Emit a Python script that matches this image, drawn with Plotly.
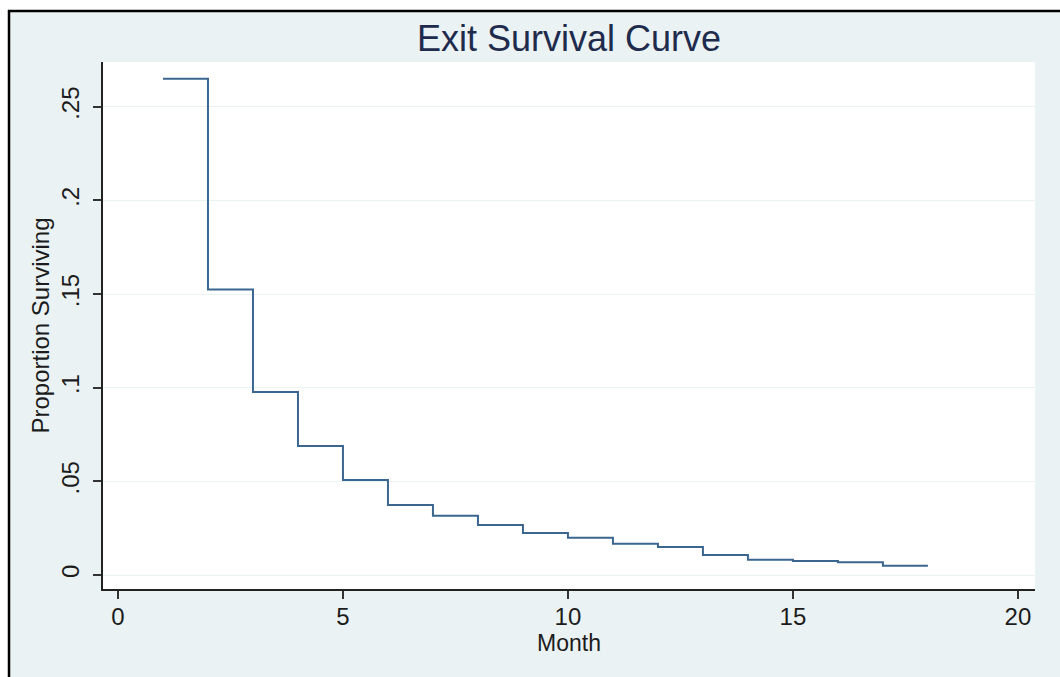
import plotly.graph_objects as go

# Data
months = [1, 2, 3, 4, 5, 6, 7, 8, 9, 10, 11, 12, 13, 14, 15, 16, 17, 18]
surviving = [0.265, 0.1525, 0.0977, 0.0689, 0.0507, 0.0374, 0.0317, 0.0267, 0.0224,
             0.0199, 0.0167, 0.0149, 0.0107, 0.0082, 0.0075, 0.0068, 0.0050, 0.0050]
x_ticks = [0, 5, 10, 15, 20]
y_ticks = [0, 0.05, 0.1, 0.15, 0.2, 0.25]
y_tick_labels = ["0", ".05", ".1", ".15", ".2", ".25"]

W, H = 1060, 677
ML, MR, MT, MB = 103, 25, 62, 88
PW, PH = W - ML - MR, H - MT - MB

BG = "#EAF2F3"
FONT = "Liberation Sans, Arial, sans-serif"
TXT = "#1c1c1c"


def px_x(p):
    return (p - ML) / PW


def px_y(p):
    return 1 - (p - MT) / PH


fig = go.Figure()
fig.add_trace(go.Scatter(
    x=months, y=surviving, mode="lines", line=dict(shape="hv", color="#3B6690", width=2),
    showlegend=False, hoverinfo="x+y"))

shapes = [
    # white strips outside frame
    dict(type="rect", xref="paper", yref="paper", x0=px_x(-5), x1=px_x(W + 5), y0=px_y(10), y1=px_y(-5),
         fillcolor="white", line=dict(width=0), layer="above"),
    dict(type="rect", xref="paper", yref="paper", x0=px_x(-5), x1=px_x(8), y0=px_y(H + 5), y1=px_y(-5),
         fillcolor="white", line=dict(width=0), layer="above"),
    # black frame lines
    dict(type="line", xref="paper", yref="paper", x0=px_x(8), x1=px_x(W + 5), y0=px_y(11), y1=px_y(11),
         line=dict(color="black", width=2.5), layer="above"),
    dict(type="line", xref="paper", yref="paper", x0=px_x(9), x1=px_x(9), y0=px_y(10), y1=px_y(H + 5),
         line=dict(color="black", width=2.5), layer="above"),
]

fig.update_layout(
    width=W, height=H,
    margin=dict(l=ML, r=MR, t=MT, b=MB, pad=0),
    paper_bgcolor=BG, plot_bgcolor="white",
    font=dict(family=FONT, color=TXT),
    title=dict(text="Exit Survival Curve", x=0.5, xanchor="center", xref="paper",
               y=1 - 38 / H, yanchor="middle", yref="container",
               font=dict(size=36, color="#1E2B4D", family=FONT)),
    shapes=shapes,
    xaxis=dict(
        range=[-0.333, 20.38], tickmode="array", tickvals=x_ticks,
        ticktext=[str(v) for v in x_ticks],
        showgrid=False, zeroline=False, showline=True, linecolor="#222", linewidth=1.5,
        ticks="outside", ticklen=8, tickwidth=1.5, tickcolor="#333",
        ticklabelstandoff=-3,
        tickfont=dict(size=24, color=TXT),
        title=dict(text="Month", font=dict(size=23, color=TXT), standoff=0),
    ),
    yaxis=dict(
        range=[-0.00747, 0.2739], tickmode="array", tickvals=y_ticks, ticktext=y_tick_labels,
        tickangle=-90, ticklabelstandoff=5,
        showgrid=True, gridcolor=BG, gridwidth=1.2, zeroline=False,
        showline=True, linecolor="#222", linewidth=1.5,
        ticks="outside", ticklen=8, tickwidth=1.5, tickcolor="#333",
        tickfont=dict(size=24, color=TXT),
        title=dict(text="Proportion Surviving", font=dict(size=24, color=TXT), standoff=0),
    ),
)

fig.write_html("out.html")
